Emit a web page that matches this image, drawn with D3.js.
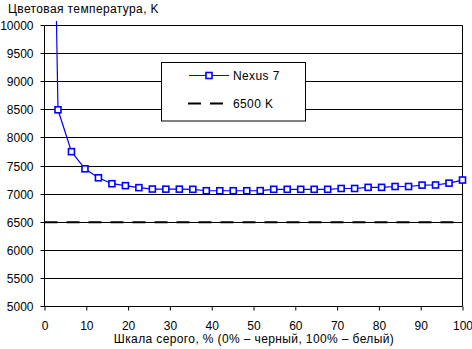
<!DOCTYPE html>
<html>
<head>
<meta charset="utf-8">
<script src="https://cdnjs.cloudflare.com/ajax/libs/d3/7.8.5/d3.min.js"></script>
<style>
  html, body { margin: 0; padding: 0; background: #fff; }
  svg { display: block; }
  text { font-family: "Liberation Sans", Arial, sans-serif; font-size: 12px; fill: #000; }
  .label { letter-spacing: 0.38px; }
</style>
</head>
<body>
<svg id="chart" width="472" height="349"></svg>
<script>
// Grey level (%) — 32 evenly spaced steps from black to white
const grayLevels = d3.range(32).map(i => i * 100 / 31);
// Measured colour temperature, K (the first step lies far above the axis range)
const nexusTemps = [22500, 8500, 7755, 7450, 7290, 7185, 7150, 7115, 7090, 7088,
                    7088, 7085, 7060, 7060, 7060, 7060, 7062, 7085, 7085, 7085,
                    7085, 7085, 7100, 7100, 7120, 7120, 7135, 7135, 7160, 7162,
                    7195, 7250];
const referenceTemp = 6500;
const xTicks = [0, 10, 20, 30, 40, 50, 60, 70, 80, 90, 100];
const yTicks = [5000, 5500, 6000, 6500, 7000, 7500, 8000, 8500, 9000, 9500, 10000];
const seriesNames = ["Nexus 7", "6500 K"];

const svg = d3.select("#chart");
const x = d3.scaleLinear().domain([0, 100]).range([44.5, 462.5]);
const y = d3.scaleLinear().domain([5000, 10000]).range([306.5, 25.5]);

// Horizontal gridlines
svg.append("g").selectAll("line").data(yTicks.filter(v => v > 5000)).join("line")
  .attr("x1", x(0)).attr("x2", x(100))
  .attr("y1", d => Math.round(y(d) - 0.5) + 0.5).attr("y2", d => Math.round(y(d) - 0.5) + 0.5)
  .attr("stroke", "#000").attr("stroke-width", 1);

// Right edge of the plot area
svg.append("line")
  .attr("x1", x(100)).attr("x2", x(100)).attr("y1", y(10000)).attr("y2", y(5000))
  .attr("stroke", "#000");

// Y axis
const yAxis = svg.append("g").attr("transform", `translate(${x(0)},0)`)
  .call(d3.axisLeft(y).tickValues(yTicks).tickSize(4).tickPadding(7).tickFormat(d3.format("d")));
yAxis.select(".domain").attr("d", `M-0,${y(10000)}V${y(5000)}`).attr("stroke", "#000");
yAxis.selectAll(".tick line").attr("stroke", "#000");
yAxis.selectAll(".tick").attr("transform", d => `translate(0,${Math.round(y(d) - 0.5) + 0.5})`);
yAxis.selectAll("text").attr("font-size", 12).attr("font-family", null).attr("dy", "0.36em");

// X axis
const xAxis = svg.append("g").attr("transform", `translate(0,${y(5000)})`)
  .call(d3.axisBottom(x).tickValues(xTicks).tickSize(4).tickPadding(10.5).tickFormat(d3.format("d")));
xAxis.select(".domain").attr("d", `M${x(0)},0H${x(100)}`).attr("stroke", "#000");
xAxis.selectAll(".tick line").attr("stroke", "#000");
xAxis.selectAll("text").attr("font-size", 12).attr("font-family", null);

// 6500 K reference line
svg.append("line")
  .attr("x1", x(0)).attr("x2", x(100))
  .attr("y1", y(referenceTemp)).attr("y2", y(referenceTemp))
  .attr("stroke", "#000").attr("stroke-width", 2).attr("stroke-dasharray", "13,9");

// Nexus 7 series
svg.append("clipPath").attr("id", "plotClip")
  .append("rect").attr("x", 0).attr("y", 21).attr("width", 472).attr("height", 300);

const pts = grayLevels.map((g, i) => [g, nexusTemps[i]]);
svg.append("path").datum(pts)
  .attr("clip-path", "url(#plotClip)")
  .attr("fill", "none").attr("stroke", "#0000ff").attr("stroke-width", 1.2)
  .attr("d", d3.line().x(d => x(d[0])).y(d => y(d[1])));

const ms = 6;
svg.append("g").selectAll("rect").data(pts.filter(d => d[1] <= 10000)).join("rect")
  .attr("x", d => x(d[0]) - ms / 2).attr("y", d => y(d[1]) - ms / 2)
  .attr("width", ms).attr("height", ms)
  .attr("fill", "#fff").attr("stroke", "#0000ff").attr("stroke-width", 1.6);

// Legend
const lg = svg.append("g");
lg.append("rect").attr("x", 161.5).attr("y", 62.5).attr("width", 144).attr("height", 58.5)
  .attr("fill", "#fff").attr("stroke", "#000");
lg.append("line").attr("x1", 189).attr("x2", 229).attr("y1", 75.5).attr("y2", 75.5)
  .attr("stroke", "#0000ff").attr("stroke-width", 1.2);
lg.append("rect").attr("x", 209 - ms / 2).attr("y", 75.5 - ms / 2).attr("width", ms).attr("height", ms)
  .attr("fill", "#fff").attr("stroke", "#0000ff").attr("stroke-width", 1.6);
lg.append("text").attr("class", "label").attr("x", 233).attr("y", 80).text(seriesNames[0]);
lg.append("line").attr("x1", 188).attr("x2", 223).attr("y1", 103.5).attr("y2", 103.5)
  .attr("stroke", "#000").attr("stroke-width", 2).attr("stroke-dasharray", "13,9");
lg.append("text").attr("class", "label").attr("x", 233).attr("y", 108).text(seriesNames[1]);

// Titles
svg.append("text").attr("class", "label").attr("x", 8).attr("y", 12.5).text("Цветовая температура, K");
svg.append("text").attr("class", "label").attr("x", 254).attr("y", 343).attr("text-anchor", "middle")
  .text("Шкала серого, % (0% – черный, 100% – белый)");
</script>
</body>
</html>
